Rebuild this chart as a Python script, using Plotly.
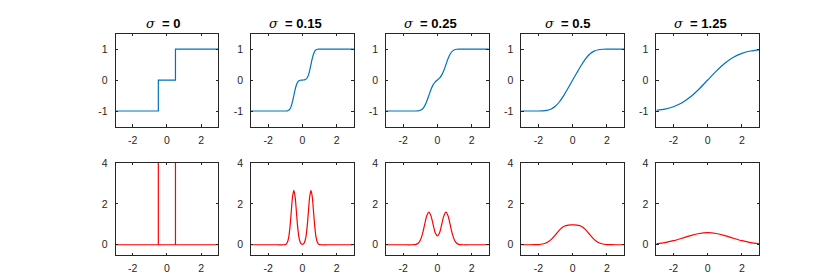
import plotly.graph_objects as go

# ---- data ----
sigma_labels = ["0", "0.15", "0.25", "0.5", "1.25"]

x_s0_top = [-3, -0.5, -0.5, 0.5, 0.5, 3]
y_s0_top = [-1, -1, 0, 0, 1, 1]
x_s0_bot = [-3, -0.5, -0.5, -0.5, 0.5, 0.5, 0.5, 3]
y_s0_bot = [0, 0, 10, 0, 0, 10, 0, 0]

x_s015 = [-3, -2, -1.5, -1.1, -0.95, -0.875, -0.8, -0.725, -0.65, -0.575, -0.5, -0.425, -0.35, -0.275,
          -0.2, -0.125, -0.05, 0, 0.05, 0.125, 0.2, 0.275, 0.35, 0.425, 0.5, 0.575, 0.65, 0.725, 0.8,
          0.875, 0.95, 1.1, 1.5, 2, 3]
y_s015_top = [-1, -1, -1, -1, -0.999, -0.994, -0.977, -0.933, -0.841, -0.691, -0.5, -0.309, -0.159, -0.067,
              -0.023, -0.006, -0.001, 0, 0.001, 0.006, 0.023, 0.067, 0.159, 0.309, 0.5, 0.691, 0.841, 0.933, 0.977,
              0.994, 0.999, 1, 1, 1, 1]
y_s015_bot = [0, 0, 0, 0.001, 0.030, 0.117, 0.360, 0.863, 1.613, 2.347, 2.660, 2.347, 1.613, 0.863,
              0.360, 0.117, 0.033, 0.021, 0.033, 0.117, 0.360, 0.863, 1.613, 2.347, 2.660, 2.347, 1.613, 0.863, 0.360,
              0.117, 0.030, 0.001, 0, 0, 0]

x_s025 = [-3, -2.5, -2, -1.5, -1.25, -1.125, -1, -0.875, -0.75, -0.625, -0.5, -0.375, -0.25, -0.125, 0,
          0.125, 0.25, 0.375, 0.5, 0.625, 0.75, 0.875, 1, 1.125, 1.25, 1.5, 2, 2.5, 3]
y_s025_top = [-1, -1, -1, -1, -0.999, -0.994, -0.977, -0.933, -0.841, -0.692, -0.5, -0.308, -0.157, -0.061, 0,
              0.061, 0.157, 0.308, 0.5, 0.692, 0.841, 0.933, 0.977, 0.994, 0.999, 1, 1, 1, 1]
y_s025_bot = [0, 0, 0, 0, 0.018, 0.070, 0.216, 0.518, 0.968, 1.408, 1.596, 1.412, 0.986, 0.588, 0.432,
              0.588, 0.986, 1.412, 1.596, 1.408, 0.968, 0.518, 0.216, 0.070, 0.018, 0, 0, 0, 0]

x_s05 = [-3, -2.5, -2.25, -2, -1.75, -1.5, -1.25, -1, -0.75, -0.5, -0.25, 0,
         0.25, 0.5, 0.75, 1, 1.25, 1.5, 1.75, 2, 2.25, 2.5, 3]
y_s05_top = [-1, -1, -1, -0.999, -0.994, -0.977, -0.933, -0.840, -0.685, -0.477, -0.242, 0,
             0.242, 0.477, 0.685, 0.840, 0.933, 0.977, 0.994, 0.999, 1, 1, 1]
y_s05_bot = [0, 0, 0.002, 0.009, 0.035, 0.108, 0.261, 0.493, 0.739, 0.906, 0.963, 0.968,
             0.963, 0.906, 0.739, 0.493, 0.261, 0.108, 0.035, 0.009, 0.002, 0, 0]

x_s125 = [-3, -2.5, -2, -1.5, -1, -0.5, 0, 0.5, 1, 1.5, 2, 2.5, 3]
y_s125_top = [-0.975, -0.937, -0.862, -0.733, -0.540, -0.288, 0, 0.288, 0.540, 0.733, 0.862, 0.937, 0.975]
y_s125_bot = [0.050, 0.107, 0.199, 0.320, 0.450, 0.551, 0.589, 0.551, 0.450, 0.320, 0.199, 0.107, 0.050]

top_series = [(x_s0_top, y_s0_top, "linear"), (x_s015, y_s015_top, "spline"), (x_s025, y_s025_top, "spline"),
              (x_s05, y_s05_top, "spline"), (x_s125, y_s125_top, "spline")]
bot_series = [(x_s0_bot, y_s0_bot, "linear"), (x_s015, y_s015_bot, "spline"), (x_s025, y_s025_bot, "spline"),
              (x_s05, y_s05_bot, "spline"), (x_s125, y_s125_bot, "spline")]

x_ticks = [-2, 0, 2]
x_ticklabels = ["-2", "0", "2"]
top_ticks = [-1, 0, 1]
top_ticklabels = ["-1", "0", "1"]
bot_ticks = [0, 2, 4]
bot_ticklabels = ["0", "2", "4"]

# ---- layout ----
W, H = 830, 277
col_left = [107.5, 243.0, 378.0, 513.3, 648.3]
ax_w = 102.8
top_row = (20.0, 115.0)
bot_row = (152.3, 246.3)
title_shift = [3.2, 6.7, 6.7, 5.5, 6.7]

BLUE = "#0072BD"
RED = "#FF0000"
DARK = "#262626"
FONT = "Liberation Sans, Arial, Helvetica, sans-serif"

fig = go.Figure()
layout = dict(width=W, height=H, margin=dict(l=0, r=0, t=0, b=0),
              paper_bgcolor="white", plot_bgcolor="white", showlegend=False,
              font=dict(family=FONT, size=10, color=DARK))
annotations = []

def axis_common():
    return dict(showgrid=False, zeroline=False, showline=True, linecolor=DARK, linewidth=0.8,
                mirror="ticks", ticks="inside", ticklen=2.5, tickwidth=0.8, tickcolor=DARK,
                tickfont=dict(family=FONT, size=10.5, color=DARK), fixedrange=True)

idx = 0
for c in range(5):
    for r, (series, row, ticks, labels, yr, color) in enumerate([
            (top_series, top_row, top_ticks, top_ticklabels, [-1.5, 1.5], BLUE),
            (bot_series, bot_row, bot_ticks, bot_ticklabels, [-0.5, 4], RED)]):
        idx += 1
        sfx = "" if idx == 1 else str(idx)
        xs, ys, shape = series[c]
        fig.add_trace(go.Scatter(x=xs, y=ys, mode="lines",
                                 line=dict(color=color, width=1.2, shape=shape, smoothing=0.8),
                                 xaxis="x" + sfx, yaxis="y" + sfx, hoverinfo="skip"))
        xd = [col_left[c] / W, (col_left[c] + ax_w) / W]
        yd = [1 - row[1] / H, 1 - row[0] / H]
        xa = axis_common()
        xa.update(domain=xd, range=[-3, 3], tickvals=x_ticks, ticktext=x_ticklabels,
                  anchor="y" + sfx, ticklabelstandoff=4)
        ya = axis_common()
        ya.update(domain=yd, range=yr, tickvals=ticks, ticktext=labels,
                  anchor="x" + sfx, ticklabelstandoff=5)
        layout["xaxis" + sfx] = xa
        layout["yaxis" + sfx] = ya
    annotations.append(dict(
        text="<span style='font-family:DejaVu Serif;font-weight:normal'><i>σ</i></span>  <b>= " + sigma_labels[c] + "</b>",
        xref="paper", yref="paper",
        x=(col_left[c] + ax_w / 2 - title_shift[c]) / W, y=1 - 9.5 / H, xanchor="center", yanchor="middle",
        showarrow=False, font=dict(family=FONT, size=13, color="black")))

layout["annotations"] = annotations
fig.update_layout(**layout)
fig.write_html("out.html")
